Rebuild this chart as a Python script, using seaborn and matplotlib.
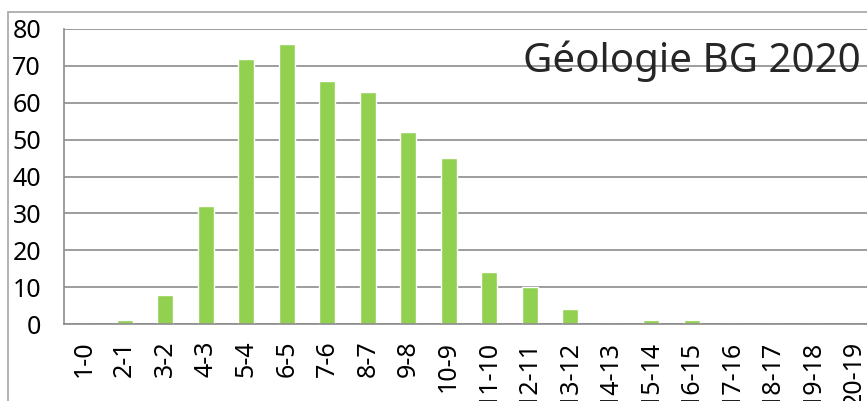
import matplotlib
matplotlib.use("Agg")
import matplotlib.pyplot as plt
import seaborn as sns
import pandas as pd
import numpy as np
from matplotlib.patches import Rectangle

categories = ["1-0", "2-1", "3-2", "4-3", "5-4", "6-5", "7-6", "8-7", "9-8", "10-9",
              "11-10", "12-11", "13-12", "14-13", "15-14", "16-15", "17-16", "18-17",
              "19-18", "20-19"]
counts = [0, 1, 8, 32, 72, 76, 66, 63, 52, 45, 14, 10, 4, 0, 1, 1, 0, 0, 0, 0]
title = "Géologie BG 2020"

df = pd.DataFrame({"note": categories, "n": counts})

sns.set_theme(style="white")
plt.rcParams['font.family'] = ['Noto Sans', 'DejaVu Sans']

fig = plt.figure(figsize=(8.67, 4.01), dpi=100)
# chart border (cropped by the picture edges)
fig.patches.append(Rectangle((8 / 867, -0.5), 2.0, 1 - 12 / 401 + 0.5, transform=fig.transFigure,
                             fill=False, edgecolor="#a6a6a6", linewidth=1.2))

ax = fig.add_axes([64 / 867, 77 / 401, 810 / 867, 295 / 401])
sns.barplot(data=df, x="note", y="n", color="#92D050", width=0.4, saturation=1, ax=ax)

ax.set_xlim(-0.5, 19.5)
ax.set_ylim(0, 80)
ax.set_yticks(range(0, 81, 10))
ax.yaxis.grid(True, color="#8c8c8c", linewidth=1.2)
ax.set_axisbelow(True)
for s in ["top", "right"]:
    ax.spines[s].set_visible(False)
for s in ["left", "bottom"]:
    ax.spines[s].set_color("#8c8c8c")
    ax.spines[s].set_linewidth(1.2)

ax.set_xticks(np.arange(-0.5, 20, 1), minor=True)
ax.tick_params(axis="x", which="minor", length=7, color="#8c8c8c", width=1.2, direction="out")
ax.tick_params(axis="x", which="major", length=0, labelsize=18, rotation=90, pad=12,
               labelcolor="black")
ax.tick_params(axis="y", length=8, color="#8c8c8c", width=1.2, direction="out", labelsize=18,
               pad=8.5, labelcolor="black")
ax.set_xlabel("")
ax.set_ylabel("")

fig.text(861 / 867, 1 - 72 / 401, title, ha="right", va="baseline", fontsize=29)

fig.savefig("out.png", dpi=100)
